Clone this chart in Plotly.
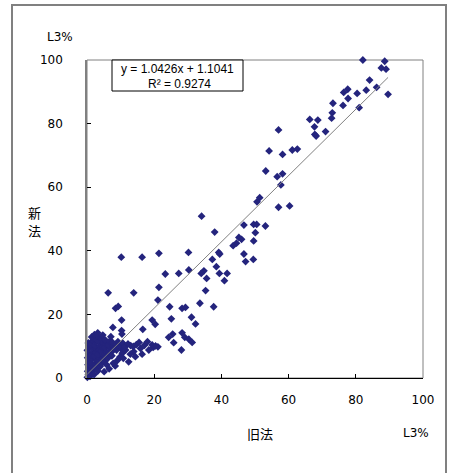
import plotly.graph_objects as go

# 旧法 (x) と 新法 (y) の L3% 値
old_method = [
    # high region
    82.1, 88.6, 87.6, 89.0, 84.1, 86.2, 89.6, 83.1, 80.4, 77.6, 76.4, 77.7, 76.2, 81.0,
    73.2, 73.0, 72.8, 66.3, 68.7, 67.7, 67.8, 68.2, 71.0,
    # mid-high
    57.0, 54.2, 58.2, 61.1, 62.6, 53.2, 56.6, 58.2, 57.7, 51.4, 50.6, 57.0, 60.3,
    49.6, 50.5, 53.1, 50.1, 49.6, 46.7,
    # mid
    34.1, 38.0, 45.2, 44.5, 43.5, 46.0, 46.7, 47.2, 49.5, 21.4, 30.2, 39.2, 39.5, 37.3,
    38.5, 41.7, 40.9, 39.4, 34.8, 34.0, 35.6, 30.3, 27.3, 23.3, 21.4, 35.3, 21.1, 33.6,
    37.7, 24.6, 28.3, 29.3, 31.1, 25.1, 32.3, 20.3, 19.4, 25.5, 24.3, 28.3, 29.1,
    # low-left scattered
    10.2, 16.4, 6.3, 13.9, 8.5, 9.3, 10.3, 7.7, 10.3, 10.4, 16.6,
    # arm
    10.0, 10.5, 11.5, 8.8, 12.4, 13.9, 12.9, 14.4, 15.9, 16.4, 18.4, 19.7, 21.1, 19.4,
    20.4, 28.1, 30.3, 25.8, 31.3,
    # dense cluster
    0.1, 0.4, 0.2, 0.6, 0.3, 0.8, 0.2, 0.5, 0.1, 0.7, 0.4, 0.9,
    1.1, 1.4, 1.2, 1.6, 1.3, 1.8, 1.5, 1.1, 1.7, 1.4, 1.9,
    2.1, 2.4, 2.7, 2.2, 2.6, 2.9, 2.3, 2.8, 2.5, 2.2, 2.9,
    3.2, 3.5, 3.8, 3.3, 3.6, 3.9, 3.4, 3.7, 3.2, 3.9,
    4.2, 4.5, 4.8, 4.3, 4.6, 4.9, 4.4, 4.7,
    5.2, 5.5, 5.8, 5.3, 5.7, 5.4, 5.9,
    6.2, 6.6, 6.9, 6.4, 6.8, 7.1,
    7.4, 7.7, 7.9, 7.5, 8.1,
    8.6, 9.2, 9.7, 10.6, 11.4, 12.2, 13.0, 13.8, 14.7, 15.5, 17.1, 18.0,
    9.0, 9.8, 10.8, 8.4, 6.6, 5.1, 7.8,
]
new_method = [
    # high region
    100.0, 99.6, 97.5, 97.1, 93.7, 91.4, 89.2, 90.5, 89.5, 90.8, 89.8, 87.9, 85.7, 85.0,
    86.4, 83.4, 81.7, 81.3, 81.1, 79.0, 76.6, 76.1, 77.5,
    # mid-high
    78.0, 71.4, 70.3, 71.7, 72.0, 65.1, 63.3, 64.2, 60.7, 56.7, 55.4, 53.7, 54.1,
    48.3, 48.3, 47.8, 45.7, 43.1, 48.1,
    # mid
    50.9, 45.9, 44.2, 42.4, 41.6, 43.6, 39.0, 36.6, 37.3, 39.2, 39.5, 39.5, 39.0, 37.3,
    35.0, 32.9, 30.6, 32.9, 33.7, 32.9, 31.3, 34.0, 32.9, 32.7, 28.5, 27.5, 24.5, 23.5,
    22.4, 22.4, 21.9, 22.2, 19.1, 18.6, 17.0, 16.9, 18.2, 13.8, 12.8, 14.2, 12.8,
    # low-left scattered
    38.0, 38.0, 26.8, 26.8, 21.9, 22.5, 18.2, 15.9, 14.9, 13.8, 15.3,
    # arm
    9.3, 7.8, 8.8, 8.8, 5.1, 8.3, 7.5, 6.7, 9.3, 7.5, 8.8, 9.6, 9.8, 10.4,
    10.1, 8.8, 12.2, 11.1, 11.2,
    # dense cluster
    0.2, 1.0, 2.1, 3.0, 4.2, 5.3, 6.4, 7.6, 8.7, 9.8, 11.0, 0.5,
    1.8, 3.6, 4.8, 6.1, 7.2, 8.3, 9.4, 10.5, 11.8, 12.9, 2.6,
    1.1, 4.1, 5.6, 6.9, 8.0, 9.1, 10.2, 11.3, 12.4, 13.6, 3.1,
    2.2, 4.7, 6.3, 7.5, 8.8, 10.1, 11.5, 12.7, 14.2, 3.6,
    4.4, 5.9, 7.3, 8.6, 9.7, 11.0, 12.3, 13.5,
    5.2, 6.8, 8.2, 9.5, 10.6, 12.0, 4.1,
    6.2, 7.8, 9.2, 10.4, 11.6, 13.0,
    7.0, 8.6, 10.0, 11.3, 9.3,
    10.6, 11.4, 10.1, 11.0, 9.9, 10.7, 10.2, 9.9, 10.5, 11.2, 10.3, 11.4,
    5.5, 6.6, 6.2, 3.8, 2.9, 2.0, 4.6,
]

slope = 1.0426
intercept = 1.1041
r_squared = 0.9274
tick_values = [0, 20, 40, 60, 80, 100]

W, H = 455, 473
L, R, T, B = 87, 32, 60, 95
pw, ph = W - L - R, H - T - B


def px(xp):
    return (xp - L) / pw


def py(yp):
    return (H - B - yp) / ph


NAVY = "#24247d"
GRAY = "#808080"
FONT = "DejaVu Sans, Noto Sans CJK JP"
EQFONT = "Liberation Sans, Arial"
JFONT = "Noto Sans CJK JP"

fig = go.Figure()
fig.add_trace(go.Scatter(
    x=old_method, y=new_method, mode="markers",
    marker=dict(symbol="diamond", size=6, color=NAVY, line=dict(width=0)),
    cliponaxis=False, hoverinfo="x+y",
))
xs = [min(old_method), max(old_method)]
fig.add_trace(go.Scatter(
    x=xs, y=[slope * v + intercept for v in xs], mode="lines",
    line=dict(color=GRAY, width=1), hoverinfo="skip",
))


def note(text, xp, yp, family=FONT, size=12):
    return dict(text=text, xref="paper", yref="paper", x=px(xp), y=py(yp),
                xanchor="center", yanchor="middle", showarrow=False, borderpad=0,
                font=dict(family=family, size=size, color="black"))


fig.update_layout(
    width=W, height=H,
    margin=dict(l=L, r=R, t=T, b=B, pad=0),
    paper_bgcolor="white", plot_bgcolor="white",
    showlegend=False,
    font=dict(family=FONT, size=12, color="black"),
    xaxis=dict(range=[0, 100], tickvals=tick_values, ticks="inside", ticklen=4,
               tickcolor="black", showline=True, linecolor="black", linewidth=1,
               showgrid=False, zeroline=False, ticklabelstandoff=11,
               tickfont=dict(family=FONT, size=12)),
    yaxis=dict(range=[0, 100], tickvals=tick_values, ticks="inside", ticklen=4,
               tickcolor="black", showline=True, linecolor=GRAY, linewidth=1.5,
               showgrid=False, zeroline=False, ticklabelstandoff=20,
               tickfont=dict(family=FONT, size=12)),
    shapes=[
        dict(type="rect", xref="paper", yref="paper", x0=0, x1=1, y0=0, y1=1,
             line=dict(color=GRAY, width=1), layer="below"),
        dict(type="rect", xref="paper", yref="paper",
             x0=px(12), x1=px(446), y0=py(485), y1=py(5),
             line=dict(color=GRAY, width=2)),
        dict(type="rect", xref="paper", yref="paper",
             x0=px(112), x1=px(243), y0=py(91), y1=py(60),
             line=dict(color="black", width=1), fillcolor="white", layer="above"),
    ],
    annotations=[
        note(f"y = {slope}x + {intercept}", 177.5, 68.5, family=EQFONT, size=12),
        note(f"R² = {r_squared}", 179, 83.5, family=EQFONT, size=12),
        note("L3%", 60, 37),
        note("新", 34, 212, family=JFONT, size=13),
        note("法", 34, 230, family=JFONT, size=13),
        note("旧法", 260, 433, family=JFONT, size=13),
        note("L3%", 416, 433),
    ],
)

fig.write_html("out.html")
